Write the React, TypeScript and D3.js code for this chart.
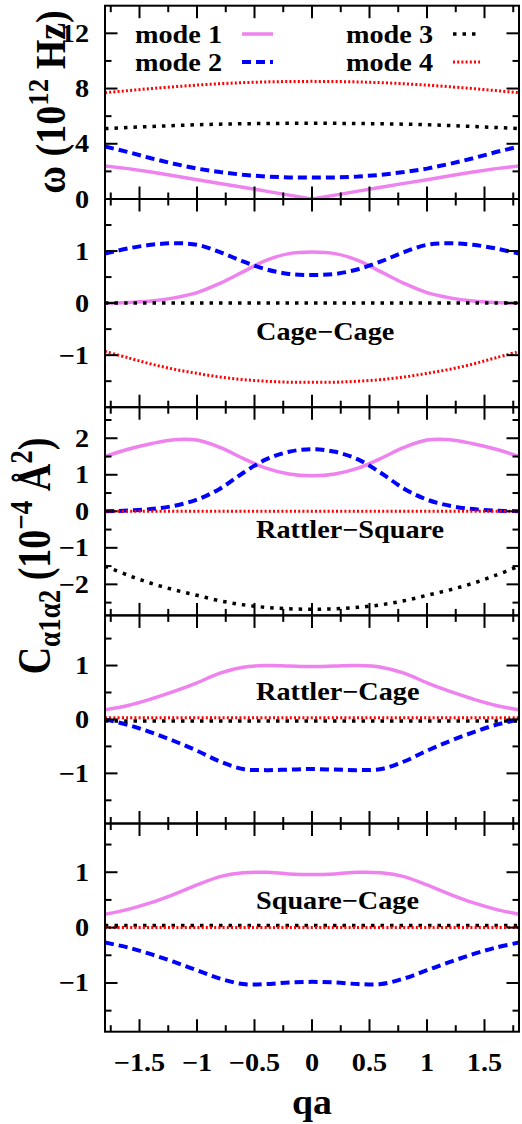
import React from "react";
import * as d3 from "d3";

const qa = [-1.8,-1.6,-1.4,-1.2,-1.0,-0.8,-0.6,-0.4,-0.2,0,0.2,0.4,0.6,0.8,1.0,1.2,1.4,1.6,1.8];

// Panel 1: omega (10^12 Hz)
const freqMode1 = [2.4,2.2,1.95,1.68,1.4,1.13,0.85,0.57,0.28,0,0.28,0.57,0.85,1.13,1.4,1.68,1.95,2.2,2.4];
const freqMode2 = [3.8,3.4,2.95,2.55,2.2,1.95,1.75,1.63,1.56,1.55,1.56,1.63,1.75,1.95,2.2,2.55,2.95,3.4,3.8];
const freqMode3 = [5.1,5.18,5.25,5.32,5.38,5.42,5.45,5.47,5.48,5.49,5.48,5.47,5.45,5.42,5.38,5.32,5.25,5.18,5.1];
const freqMode4 = [7.7,7.85,8.0,8.13,8.25,8.35,8.43,8.48,8.51,8.52,8.51,8.48,8.43,8.35,8.25,8.13,8.0,7.85,7.7];

// Panel 2: Cage-Cage
const ccMode1 = [0,0.01,0.04,0.1,0.2,0.38,0.6,0.82,0.95,0.98,0.95,0.82,0.6,0.38,0.2,0.1,0.04,0.01,0];
const ccMode2 = [0.95,1.05,1.12,1.15,1.12,0.98,0.8,0.65,0.56,0.54,0.56,0.65,0.8,0.98,1.12,1.15,1.12,1.05,0.95];
const ccMode3 = [0,0,0,0,0,0,0,0,0,0,0,0,0,0,0,0,0,0,0];
const ccMode4 = [-0.93,-1.05,-1.17,-1.27,-1.35,-1.42,-1.47,-1.5,-1.52,-1.52,-1.52,-1.5,-1.47,-1.42,-1.35,-1.27,-1.17,-1.05,-0.93];

// Panel 3: Rattler-Square
const rsMode1 = [1.5,1.7,1.85,1.96,1.95,1.75,1.45,1.18,1.02,0.97,1.02,1.18,1.45,1.75,1.95,1.96,1.85,1.7,1.5];
const rsMode2 = [0,0.02,0.06,0.15,0.32,0.62,1.05,1.42,1.63,1.7,1.63,1.42,1.05,0.62,0.32,0.15,0.06,0.02,0];
const rsMode3 = [-1.5,-1.75,-1.97,-2.15,-2.3,-2.45,-2.56,-2.63,-2.67,-2.68,-2.67,-2.63,-2.56,-2.45,-2.3,-2.15,-1.97,-1.75,-1.5];
const rsMode4 = [0,0,0,0,0,0,0,0,0,0,0,0,0,0,0,0,0,0,0];

// Panel 4: Rattler-Cage
const rcMode1 = [0.18,0.26,0.38,0.52,0.68,0.86,0.97,1.0,0.99,0.98,0.99,1.0,0.97,0.86,0.68,0.52,0.38,0.26,0.18];
const rcMode2 = [0,-0.1,-0.24,-0.4,-0.58,-0.78,-0.92,-0.94,-0.93,-0.92,-0.93,-0.94,-0.92,-0.78,-0.58,-0.4,-0.24,-0.1,0];
const rcMode3 = [-0.03,-0.03,-0.03,-0.03,-0.03,-0.03,-0.03,-0.03,-0.03,-0.03,-0.03,-0.03,-0.03,-0.03,-0.03,-0.03,-0.03,-0.03,-0.03];
const rcMode4 = [0.03,0.03,0.03,0.03,0.03,0.03,0.03,0.03,0.03,0.03,0.03,0.03,0.03,0.03,0.03,0.03,0.03,0.03,0.03];

// Panel 5: Square-Cage
const scMode1 = [0.24,0.33,0.45,0.6,0.77,0.92,0.99,1.0,0.97,0.96,0.97,1.0,0.99,0.92,0.77,0.6,0.45,0.33,0.24];
const scMode2 = [-0.27,-0.36,-0.48,-0.62,-0.77,-0.92,-1.02,-1.02,-0.99,-0.98,-0.99,-1.02,-1.02,-0.92,-0.77,-0.62,-0.48,-0.36,-0.27];
const scMode3 = [0.04,0.04,0.04,0.04,0.04,0.04,0.04,0.04,0.04,0.04,0.04,0.04,0.04,0.04,0.04,0.04,0.04,0.04,0.04];
const scMode4 = [0,0,0,0,0,0,0,0,0,0,0,0,0,0,0,0,0,0,0];

const xMajorTicks = [-1.5,-1,-0.5,0,0.5,1,1.5];
const xMinorTicks = [-1.75,-1.25,-0.75,-0.25,0.25,0.75,1.25,1.75];
const xTickLabels = ["−1.5","−1","−0.5","0","0.5","1","1.5"];

const modeNames = ["mode 1","mode 2","mode 3","mode 4"];
const panelTitles = ["", "Cage−Cage", "Rattler−Square", "Rattler−Cage", "Square−Cage"];

const styles = [
  { color: "#ee82ee", width: 3.5, dash: "" },
  { color: "#0000ff", width: 4, dash: "9,5" },
  { color: "#000000", width: 3.5, dash: "3.5,6" },
  { color: "#ff0000", width: 3, dash: "2,2.2" },
];

const FONT = "Liberation Serif, Times New Roman, serif";
const SX = 1.13;
const FS = 25;

const left = 105, right = 519;

const panels = [
  { top: 5.7, bottom: 199, domain: [0, 14], major: [0,4,8,12], minor: [2,6,10], labels: ["0","4","8","12"], series: [freqMode1,freqMode2,freqMode3,freqMode4], curve: d3.curveLinear },
  { top: 199, bottom: 407.2, domain: [-2, 2], major: [-1,0,1], minor: [-1.5,-0.5,0.5,1.5], labels: ["−1","0","1"], series: [ccMode1,ccMode2,ccMode3,ccMode4], curve: d3.curveCatmullRom },
  { top: 407.2, bottom: 615.4, domain: [-2.85, 2.85], major: [-2,-1,0,1,2], minor: [-2.5,-1.5,-0.5,0.5,1.5,2.5], labels: ["−2","−1","0","1","2"], series: [rsMode1,rsMode2,rsMode3,rsMode4], curve: d3.curveCatmullRom },
  { top: 615.4, bottom: 823.5, domain: [-1.93, 1.93], major: [-1,0,1], minor: [-1.5,-0.5,0.5,1.5], labels: ["−1","0","1"], series: [rcMode1,rcMode2,rcMode3,rcMode4], curve: d3.curveCatmullRom },
  { top: 823.5, bottom: 1031.7, domain: [-1.88, 1.88], major: [-1,0,1], minor: [-1.5,-0.5,0.5,1.5], labels: ["−1","0","1"], series: [scMode1,scMode2,scMode3,scMode4], curve: d3.curveCatmullRom },
];

const titlePos = [null, { x: 256, y: 340 }, { x: 256, y: 538 }, { x: 256, y: 700 }, { x: 256, y: 909 }];

export default function App() {
  const x = d3.scaleLinear().domain([-1.8, 1.8]).range([left, right]);
  const MAJ = 12.5, MIN = 6.5;

  return (
    <svg width={522} height={1124} style={{ position: "absolute", left: 0, top: 0, background: "#fff", fontFamily: FONT, fontWeight: "bold" }}>
      <rect x={0} y={0} width={522} height={1124} fill="#fff" />
      <defs>
        {panels.map((p, i) => (
          <clipPath id={`clip${i}`} key={i}>
            <rect x={left} y={p.top} width={right - left} height={p.bottom - p.top} />
          </clipPath>
        ))}
      </defs>
      {panels.map((p, i) => {
        const y = d3.scaleLinear().domain(p.domain).range([p.bottom, p.top]);
        const line = d3.line<number>().x((_, k) => x(qa[k])).y((v) => y(v)).curve(p.curve);
        return (
          <g key={i}>
            <g clipPath={`url(#clip${i})`}>
              {p.series.map((s, k) => (
                <path key={k} d={line(s) || ""} fill="none" stroke={styles[k].color} strokeWidth={styles[k].width} strokeDasharray={styles[k].dash || undefined} />
              ))}
            </g>
            {xMajorTicks.map((t) => (
              <g key={`xm${t}`} stroke="#000" strokeWidth={2}>
                <line x1={x(t)} x2={x(t)} y1={p.bottom} y2={p.bottom - MAJ} />
                <line x1={x(t)} x2={x(t)} y1={p.top} y2={p.top + MAJ} />
              </g>
            ))}
            {xMinorTicks.map((t) => (
              <g key={`xn${t}`} stroke="#000" strokeWidth={2}>
                <line x1={x(t)} x2={x(t)} y1={p.bottom} y2={p.bottom - MIN} />
                <line x1={x(t)} x2={x(t)} y1={p.top} y2={p.top + MIN} />
              </g>
            ))}
            {p.major.map((t) => (
              <g key={`ym${t}`} stroke="#000" strokeWidth={2}>
                <line x1={left} x2={left + MAJ} y1={y(t)} y2={y(t)} />
                <line x1={right} x2={right - MAJ} y1={y(t)} y2={y(t)} />
              </g>
            ))}
            {p.minor.map((t) => (
              <g key={`yn${t}`} stroke="#000" strokeWidth={2}>
                <line x1={left} x2={left + MIN} y1={y(t)} y2={y(t)} />
                <line x1={right} x2={right - MIN} y1={y(t)} y2={y(t)} />
              </g>
            ))}
            {p.major.map((t, k) => (
              <text key={`yl${t}`} transform={`translate(89,${y(t) + 8.5}) scale(${SX},1)`} textAnchor="end" fontSize={FS}>{p.labels[k]}</text>
            ))}
            {titlePos[i] && (
              <text transform={`translate(${titlePos[i]!.x},${titlePos[i]!.y}) scale(${SX},1)`} fontSize={FS}>{panelTitles[i]}</text>
            )}
            <rect x={left} y={p.top} width={right - left} height={p.bottom - p.top} fill="none" stroke="#000" strokeWidth={2} />
          </g>
        );
      })}
      {xMajorTicks.map((t, k) => (
        <text key={`xl${t}`} transform={`translate(${x(t)},1071) scale(${SX},1)`} textAnchor="middle" fontSize={FS}>{xTickLabels[k]}</text>
      ))}
      {[0, 1, 2, 3].map((k) => {
        const col = k < 2 ? 0 : 1;
        const row = k % 2;
        const tx = col === 0 ? 222 : 433;
        const sx1 = col === 0 ? 242 : 453;
        const sx2 = col === 0 ? 273 : 480;
        const ly = row === 0 ? 34 : 62;
        return (
          <g key={`leg${k}`}>
            <text transform={`translate(${tx},${ly + 8.5}) scale(${SX},1)`} textAnchor="end" fontSize={FS}>{modeNames[k]}</text>
            <line x1={sx1} x2={sx2} y1={ly} y2={ly} stroke={styles[k].color} strokeWidth={styles[k].width} strokeDasharray={styles[k].dash || undefined} />
          </g>
        );
      })}
      <text transform={`translate(65,102) scale(${SX},1) rotate(-90)`} textAnchor="middle" fontSize={38}>
        ω (10<tspan fontSize={27} dy={-15}>12</tspan><tspan dy={15}> Hz)</tspan>
      </text>
      <text transform={`translate(50,556) scale(1.2,1) rotate(-90)`} textAnchor="middle" fontSize={38}>
        C<tspan fontSize={27} dy={8}>α1α2</tspan><tspan dy={-8}> (10</tspan><tspan fontSize={27} dy={-15}>−4</tspan><tspan dy={15}> Å</tspan><tspan fontSize={27} dy={-15}>2</tspan><tspan dy={15}>)</tspan>
      </text>
      <text transform={`translate(312,1114) scale(1.05,1)`} textAnchor="middle" fontSize={36}>qa</text>
    </svg>
  );
}
